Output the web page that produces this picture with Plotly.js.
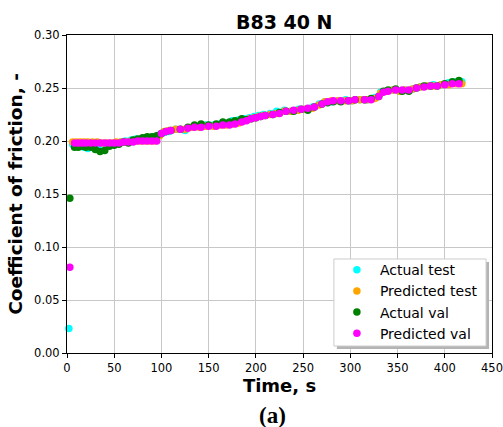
<!DOCTYPE html>
<html>
<head>
<meta charset="utf-8">
<script src="https://cdn.plot.ly/plotly-3.0.1.min.js"></script>
<style>html,body{margin:0;padding:0;background:#fff;}#chart{width:503px;height:427px;}</style>
</head>
<body>
<div id="chart"></div>
<script>
// ---- data ----
const actualTestTime = [2, 6, 10, 14, 18, 22, 27, 32, 37, 42, 47, 52, 57, 62, 68, 73, 78, 83, 88, 93, 98, 103, 108, 115, 125, 132, 140, 147, 155, 162, 168, 175, 182, 188, 193, 198, 203, 208, 215, 222, 230, 237, 245, 252, 260, 267, 273, 280, 287, 295, 302, 310, 318, 326, 332, 338, 345, 352, 358, 366, 374, 381, 388, 396, 404, 412, 418];
const actualTest = [0.023, 0.197, 0.196, 0.195, 0.194, 0.193, 0.194, 0.195, 0.193, 0.195, 0.197, 0.198, 0.199, 0.200, 0.201, 0.202, 0.202, 0.203, 0.203, 0.204, 0.206, 0.208, 0.209, 0.211, 0.210, 0.213, 0.214, 0.215, 0.215, 0.216, 0.217, 0.219, 0.220, 0.221, 0.222, 0.223, 0.224, 0.225, 0.226, 0.228, 0.229, 0.228, 0.230, 0.230, 0.232, 0.235, 0.237, 0.237, 0.238, 0.239, 0.238, 0.239, 0.239, 0.241, 0.246, 0.247, 0.248, 0.247, 0.248, 0.249, 0.251, 0.252, 0.253, 0.253, 0.255, 0.256, 0.256];
const predTestTime = [6, 10, 14, 18, 22, 27, 32, 37, 42, 47, 52, 57, 62, 68, 73, 78, 83, 88, 93, 98, 103, 108, 115, 125, 132, 140, 147, 155, 162, 168, 175, 182, 188, 193, 198, 203, 208, 215, 222, 230, 237, 245, 252, 260, 267, 273, 280, 287, 295, 302, 310, 318, 326, 332, 338, 345, 352, 358, 366, 374, 381, 388, 396, 404, 412, 418];
const predTest = [0.199, 0.199, 0.199, 0.199, 0.199, 0.199, 0.199, 0.198, 0.198, 0.198, 0.199, 0.199, 0.199, 0.200, 0.200, 0.200, 0.200, 0.200, 0.200, 0.205, 0.209, 0.210, 0.211, 0.211, 0.213, 0.213, 0.214, 0.214, 0.215, 0.215, 0.216, 0.217, 0.219, 0.221, 0.222, 0.223, 0.224, 0.225, 0.226, 0.228, 0.228, 0.229, 0.230, 0.231, 0.234, 0.237, 0.238, 0.238, 0.238, 0.238, 0.239, 0.239, 0.240, 0.245, 0.247, 0.248, 0.247, 0.248, 0.249, 0.251, 0.252, 0.252, 0.253, 0.253, 0.254, 0.254];
const valTime = [3, 8, 12, 16, 20, 25, 30, 35, 40, 45, 50, 55, 60, 65, 70, 75, 80, 85, 90, 95, 100, 105, 110, 120, 128, 135, 142, 150, 158, 165, 172, 178, 185, 190, 195, 200, 205, 210, 218, 225, 232, 240, 248, 255, 262, 270, 276, 282, 290, 298, 305, 315, 322, 330, 335, 340, 348, 355, 362, 370, 378, 385, 392, 400, 408, 415];
const actualVal = [0.146, 0.194, 0.194, 0.195, 0.194, 0.194, 0.192, 0.190, 0.191, 0.195, 0.196, 0.197, 0.199, 0.198, 0.201, 0.202, 0.203, 0.204, 0.204, 0.205, 0.207, 0.209, 0.210, 0.211, 0.213, 0.215, 0.216, 0.215, 0.216, 0.218, 0.218, 0.219, 0.221, 0.220, 0.221, 0.222, 0.223, 0.224, 0.225, 0.227, 0.228, 0.228, 0.230, 0.229, 0.232, 0.235, 0.236, 0.237, 0.237, 0.238, 0.239, 0.239, 0.240, 0.242, 0.247, 0.248, 0.249, 0.247, 0.247, 0.250, 0.252, 0.252, 0.252, 0.254, 0.256, 0.257];
const predVal = [0.081, 0.198, 0.198, 0.198, 0.198, 0.198, 0.198, 0.198, 0.198, 0.198, 0.198, 0.198, 0.199, 0.199, 0.199, 0.200, 0.200, 0.200, 0.200, 0.200, 0.207, 0.209, 0.210, 0.211, 0.212, 0.213, 0.213, 0.214, 0.214, 0.215, 0.215, 0.216, 0.218, 0.219, 0.221, 0.222, 0.223, 0.224, 0.225, 0.226, 0.228, 0.229, 0.230, 0.231, 0.232, 0.235, 0.237, 0.238, 0.238, 0.238, 0.239, 0.239, 0.239, 0.242, 0.246, 0.247, 0.248, 0.248, 0.248, 0.250, 0.251, 0.252, 0.252, 0.253, 0.254, 0.254];
const seriesNames = ["Actual test", "Predicted test", "Actual val", "Predicted val"];
const seriesColors = ["#00ffff", "#ffa500", "#008000", "#ff00ff"];
const xTicks = [0, 50, 100, 150, 200, 250, 300, 350, 400, 450];
const yTicks = [0.00, 0.05, 0.10, 0.15, 0.20, 0.25, 0.30];

const xs = [actualTestTime, predTestTime, valTime, valTime];
const ys = [actualTest, predTest, actualVal, predVal];
const traces = seriesNames.map((n, i) => ({
  type: "scatter", mode: "markers", name: n, x: xs[i], y: ys[i],
  marker: {color: seriesColors[i], size: 7.5, line: {width: 0}},
  cliponaxis: false
}));

const font = "DejaVu Sans, Verdana, sans-serif";
const axisCommon = {
  showline: true, linecolor: "#000", linewidth: 1, mirror: true,
  ticks: "outside", ticklen: 4, tickcolor: "#000", tickwidth: 1,
  showgrid: true, gridcolor: "#c8c8c8", gridwidth: 1, zeroline: false,
  tickfont: {family: font, size: 11.5, color: "#000"}
};
const layout = {
  width: 503, height: 427,
  margin: {l: 67, r: 11, t: 35, b: 74},
  paper_bgcolor: "#fff", plot_bgcolor: "#fff",
  showlegend: true,
  title: {text: "<b>B83 40 N</b>", font: {family: font, size: 19, color: "#000"}, x: 0.565, xanchor: "center", y: 0.948, yanchor: "middle"},
  xaxis: Object.assign({}, axisCommon, {
    range: [0, 450], tickvals: xTicks, ticktext: xTicks.map(String),
    title: {text: "<b>Time, s</b>", font: {family: font, size: 18, color: "#000"}, standoff: 4}
  }),
  yaxis: Object.assign({}, axisCommon, {
    range: [0, 0.30], tickvals: yTicks, ticktext: yTicks.map(v => v.toFixed(2)),
    title: {text: "<b>Coefficient of friction, -</b>", font: {family: font, size: 18.5, color: "#000"}, standoff: 6}
  }),
  legend: {
    x: 0.628, y: 0.311, xanchor: "left", yanchor: "top",
    bgcolor: "rgba(0,0,0,0)", borderwidth: 0,
    font: {family: font, size: 14, color: "#000"},
    itemwidth: 36,
    tracegroupgap: 0
  },
  shapes: [
    {type: "rect", xref: "paper", yref: "paper", layer: "above",
     x0: 0.635, x1: 0.993, y0: 0.0126, y1: 0.286,
     fillcolor: "#b4b4b4", line: {width: 0}},
    {type: "rect", xref: "paper", yref: "paper", layer: "above",
     x0: 0.628, x1: 0.986, y0: 0.022, y1: 0.2956,
     fillcolor: "#ffffff", line: {width: 1, color: "#cccccc"}}
  ],
  annotations: [{
    text: "<b>(a)</b>", xref: "paper", yref: "paper", x: 0.483, y: -0.195,
    xanchor: "center", yanchor: "middle", showarrow: false,
    font: {family: "Liberation Serif, Times New Roman, serif", size: 23, color: "#000"}
  }]
};
Plotly.newPlot("chart", traces, layout, {displayModeBar: false, staticPlot: true});
</script>
</body>
</html>
